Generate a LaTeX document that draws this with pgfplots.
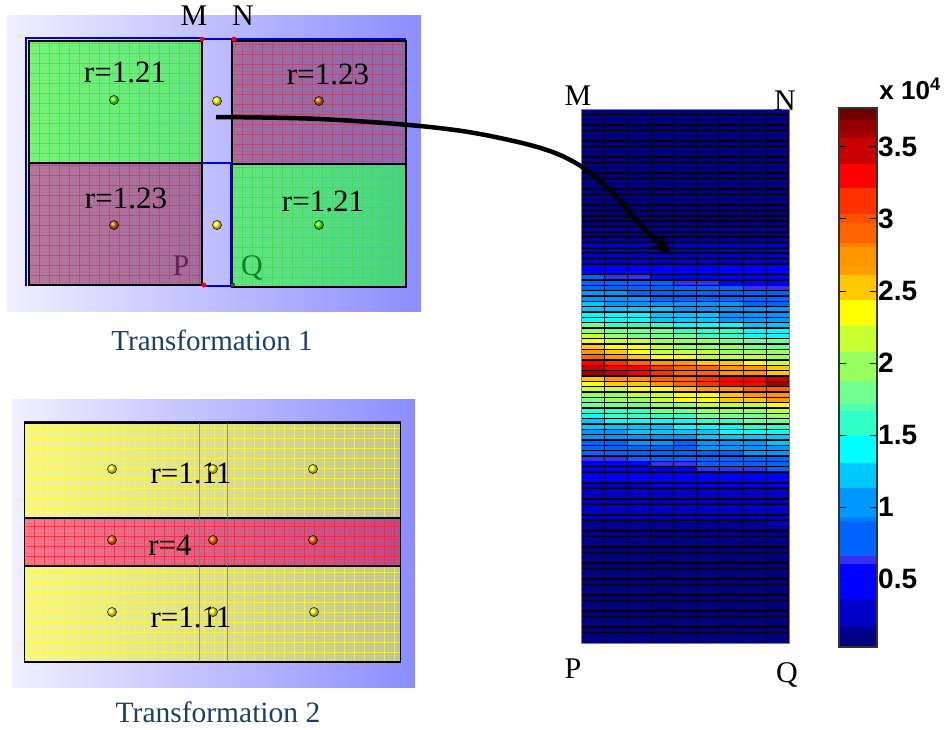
\documentclass[border=0pt]{standalone}
\usepackage{fontspec}
\setmainfont{Liberation Serif}
\setsansfont{Liberation Sans}
\usepackage{pgfplots}
\pgfplotsset{compat=1.18}
\usetikzlibrary{arrows.meta}
\newcommand\sz[1]{\fontsize{#1}{#1}\selectfont}
\definecolor{capblue}{RGB}{23,64,109}
\pgfplotsset{
  colormap={bands}{
    rgb255(3)=(0,0,128) rgb255(12)=(0,0,128)
    rgb255(13)=(0,0,150) rgb255(17)=(0,0,150)
    rgb255(18)=(0,0,200) rgb255(36)=(0,0,200)
    rgb255(37)=(0,0,255) rgb255(60)=(0,0,255)
    rgb255(61)=(55,48,240) rgb255(66)=(55,48,240)
    rgb255(67)=(0,100,255) rgb255(90)=(0,100,255)
    rgb255(91)=(0,128,255) rgb255(93)=(0,128,255)
    rgb255(94)=(0,152,255) rgb255(113)=(0,152,255)
    rgb255(114)=(0,200,255) rgb255(130)=(0,200,255)
    rgb255(131)=(0,255,255) rgb255(149)=(0,255,255)
    rgb255(150)=(48,255,200) rgb255(166)=(48,255,200)
    rgb255(167)=(80,255,176) rgb255(171)=(80,255,176)
    rgb255(172)=(112,255,144) rgb255(187)=(112,255,144)
    rgb255(188)=(152,255,96) rgb255(207)=(152,255,96)
    rgb255(208)=(200,255,48) rgb255(225)=(200,255,48)
    rgb255(226)=(255,255,0) rgb255(243)=(255,255,0)
    rgb255(244)=(255,200,0) rgb255(261)=(255,200,0)
    rgb255(262)=(255,160,0) rgb255(267)=(255,160,0)
    rgb255(268)=(255,150,0) rgb255(280)=(255,150,0)
    rgb255(281)=(255,128,0) rgb255(283)=(255,128,0)
    rgb255(284)=(255,100,0) rgb255(297)=(255,100,0)
    rgb255(298)=(255,80,0) rgb255(303)=(255,80,0)
    rgb255(304)=(255,50,0) rgb255(321)=(255,50,0)
    rgb255(322)=(255,0,0) rgb255(338)=(255,0,0)
    rgb255(339)=(200,0,0) rgb255(356)=(200,0,0)
    rgb255(357)=(160,0,0) rgb255(361)=(160,0,0)
    rgb255(362)=(144,0,0) rgb255(368)=(144,0,0)
    rgb255(369)=(112,0,0) rgb255(377)=(112,0,0)
  },
  page/.style={scale only axis, anchor=north west, xmin=0, ymin=0},
  backdrop/.style={page, xtick=\empty, ytick=\empty, axis line style={draw=none},
    axis background/.style={left color=white!60!blue!15, middle color=blue!27!white, right color=blue!45!white}},
  panel/.style n args={3}{page, xtick distance=10, ytick distance=10, minor tick num=2, grid=both,
    xticklabels={}, yticklabels={}, major tick length=0pt, minor tick length=0pt,
    axis line style={black, line width=1.5pt},
    major grid style={#3, opacity=.75, line width=.55pt},
    minor grid style={#3, opacity=.12, line width=.3pt},
    axis background/.style={left color=#1, right color=#2}},
}
\definecolor{gl}{RGB}{128,240,128}\definecolor{gm}{RGB}{104,228,136}\definecolor{gr}{RGB}{78,208,140}
\definecolor{pa}{RGB}{176,124,160}\definecolor{pb}{RGB}{160,112,160}\definecolor{pc}{RGB}{140,108,176}
\definecolor{yl}{RGB}{246,246,150}\definecolor{yr}{RGB}{190,194,150}
\definecolor{rl}{RGB}{248,124,140}\definecolor{rr}{RGB}{190,76,136}
\definecolor{glin}{RGB}{40,240,40}
\definecolor{plin}{RGB}{192,60,110}
\definecolor{ylin}{RGB}{255,255,30}
\definecolor{rlin}{RGB}{255,30,50}
\begin{document}
\begin{tikzpicture}
\path[use as bounding box] (0,0) rectangle (948pt,-729pt);
% transformation 1 and 2 backgrounds
\begin{axis}[backdrop, at={(7pt,-15pt)}, width=414pt, height=296pt, xmax=1, ymax=1]\end{axis}
\begin{axis}[backdrop, at={(12pt,-399pt)}, width=403pt, height=288pt, xmax=1, ymax=1]\end{axis}
% transformation 1 cells
\begin{axis}[panel={gl}{gm}{glin}, at={(29pt,-41pt)}, width=173pt, height=122pt, xmax=173, ymax=122]\end{axis}
\begin{axis}[panel={pb}{pc}{plin}, at={(232pt,-41pt)}, width=174pt, height=123pt, xmax=174, ymax=123]\end{axis}
\begin{axis}[panel={pa}{pb}{plin}, at={(29pt,-163pt)}, width=173pt, height=122pt, xmax=173, ymax=122]\end{axis}
\begin{axis}[panel={gm}{gr}{glin}, at={(232pt,-164pt)}, width=174pt, height=123pt, xmax=174, ymax=123]\end{axis}
% transformation 2 cells
\begin{axis}[panel={yl}{yr}{ylin}, at={(24.5pt,-423pt)}, width=376pt, height=95pt, xmax=376, ymax=95]\end{axis}
\begin{axis}[panel={rl}{rr}{rlin}, at={(24.5pt,-518pt)}, width=376pt, height=48pt, xmax=376, ymax=48]\end{axis}
\begin{axis}[panel={yl}{yr}{ylin}, at={(24.5pt,-566pt)}, width=376pt, height=96pt, xmax=376, ymax=96]\end{axis}
% field map
\begin{axis}[page, at={(581pt,-109pt)}, width=208pt, height=534pt,
  xmin=-.5, xmax=8.5, ymin=-.5, ymax=99.5, y dir=reverse,
  colormap name=bands, point meta min=.03, point meta max=3.77,
  axis on top, grid=major,
  xtick={.5,1.5,...,7.5}, ytick={.5,1.5,...,98.5},
  xticklabels={}, yticklabels={}, major tick length=0pt,
  x grid style={black, line width=.5pt}, y grid style={black, line width=1.4pt},
  axis line style={gray, line width=.8pt}]
\addplot[matrix plot*, mesh/cols=9, point meta=\thisrow{c}] table[row sep=crcr, x=x, y=y] {
x y c\\
0 0 .08\\1 0 .08\\2 0 .08\\3 0 .08\\4 0 .08\\5 0 .08\\6 0 .08\\7 0 .08\\8 0 .08\\
0 1 .08\\1 1 .08\\2 1 .08\\3 1 .08\\4 1 .08\\5 1 .08\\6 1 .08\\7 1 .08\\8 1 .08\\
0 2 .08\\1 2 .08\\2 2 .08\\3 2 .08\\4 2 .08\\5 2 .08\\6 2 .08\\7 2 .08\\8 2 .08\\
0 3 .08\\1 3 .08\\2 3 .08\\3 3 .08\\4 3 .08\\5 3 .08\\6 3 .08\\7 3 .08\\8 3 .08\\
0 4 .08\\1 4 .08\\2 4 .08\\3 4 .08\\4 4 .08\\5 4 .08\\6 4 .08\\7 4 .08\\8 4 .08\\
0 5 .08\\1 5 .08\\2 5 .08\\3 5 .08\\4 5 .08\\5 5 .08\\6 5 .08\\7 5 .08\\8 5 .08\\
0 6 .08\\1 6 .08\\2 6 .08\\3 6 .08\\4 6 .08\\5 6 .08\\6 6 .08\\7 6 .08\\8 6 .08\\
0 7 .08\\1 7 .08\\2 7 .08\\3 7 .08\\4 7 .08\\5 7 .08\\6 7 .08\\7 7 .08\\8 7 .08\\
0 8 .08\\1 8 .08\\2 8 .08\\3 8 .08\\4 8 .08\\5 8 .08\\6 8 .08\\7 8 .08\\8 8 .08\\
0 9 .08\\1 9 .08\\2 9 .08\\3 9 .08\\4 9 .08\\5 9 .08\\6 9 .08\\7 9 .08\\8 9 .08\\
0 10 .08\\1 10 .08\\2 10 .08\\3 10 .08\\4 10 .08\\5 10 .08\\6 10 .08\\7 10 .08\\8 10 .08\\
0 11 .08\\1 11 .08\\2 11 .08\\3 11 .08\\4 11 .08\\5 11 .08\\6 11 .08\\7 11 .08\\8 11 .08\\
0 12 .08\\1 12 .08\\2 12 .08\\3 12 .08\\4 12 .08\\5 12 .08\\6 12 .08\\7 12 .08\\8 12 .08\\
0 13 .08\\1 13 .08\\2 13 .08\\3 13 .08\\4 13 .08\\5 13 .08\\6 13 .08\\7 13 .08\\8 13 .08\\
0 14 .08\\1 14 .08\\2 14 .08\\3 14 .08\\4 14 .08\\5 14 .08\\6 14 .08\\7 14 .08\\8 14 .08\\
0 15 .08\\1 15 .08\\2 15 .08\\3 15 .08\\4 15 .08\\5 15 .08\\6 15 .08\\7 15 .08\\8 15 .08\\
0 16 .08\\1 16 .08\\2 16 .08\\3 16 .08\\4 16 .08\\5 16 .08\\6 16 .08\\7 16 .08\\8 16 .08\\
0 17 .08\\1 17 .08\\2 17 .08\\3 17 .08\\4 17 .08\\5 17 .08\\6 17 .08\\7 17 .08\\8 17 .08\\
0 18 .08\\1 18 .08\\2 18 .08\\3 18 .08\\4 18 .08\\5 18 .08\\6 18 .08\\7 18 .08\\8 18 .08\\
0 19 .08\\1 19 .08\\2 19 .08\\3 19 .08\\4 19 .08\\5 19 .08\\6 19 .08\\7 19 .08\\8 19 .08\\
0 20 .08\\1 20 .08\\2 20 .08\\3 20 .08\\4 20 .08\\5 20 .08\\6 20 .08\\7 20 .08\\8 20 .08\\
0 21 .08\\1 21 .08\\2 21 .08\\3 21 .08\\4 21 .08\\5 21 .08\\6 21 .08\\7 21 .08\\8 21 .08\\
0 22 .15\\1 22 .15\\2 22 .15\\3 22 .15\\4 22 .15\\5 22 .15\\6 22 .15\\7 22 .15\\8 22 .15\\
0 23 .15\\1 23 .15\\2 23 .15\\3 23 .15\\4 23 .15\\5 23 .15\\6 23 .15\\7 23 .15\\8 23 .15\\
0 24 .15\\1 24 .15\\2 24 .15\\3 24 .15\\4 24 .15\\5 24 .15\\6 24 .15\\7 24 .15\\8 24 .15\\
0 25 .28\\1 25 .28\\2 25 .28\\3 25 .28\\4 25 .28\\5 25 .28\\6 25 .28\\7 25 .28\\8 25 .28\\
0 26 .28\\1 26 .28\\2 26 .28\\3 26 .28\\4 26 .28\\5 26 .28\\6 26 .28\\7 26 .28\\8 26 .28\\
0 27 .28\\1 27 .28\\2 27 .28\\3 27 .28\\4 27 .28\\5 27 .28\\6 27 .28\\7 27 .28\\8 27 .28\\
0 28 .28\\1 28 .28\\2 28 .28\\3 28 .28\\4 28 .28\\5 28 .28\\6 28 .28\\7 28 .28\\8 28 .28\\
0 29 .5\\1 29 .5\\2 29 .5\\3 29 .5\\4 29 .5\\5 29 .5\\6 29 .5\\7 29 .5\\8 29 .5\\
0 30 .5\\1 30 .5\\2 30 .5\\3 30 .5\\4 30 .5\\5 30 .5\\6 30 .5\\7 30 .5\\8 30 .5\\
0 31 .8\\1 31 .64\\2 31 .64\\3 31 .5\\4 31 .5\\5 31 .5\\6 31 .5\\7 31 .5\\8 31 .5\\
0 32 .8\\1 32 .8\\2 32 .8\\3 32 .8\\4 32 .64\\5 32 .64\\6 32 .5\\7 32 .5\\8 32 .5\\
0 33 .8\\1 33 .8\\2 33 .8\\3 33 .8\\4 33 .8\\5 33 .8\\6 33 .8\\7 33 .64\\8 33 .64\\
0 34 1\\1 34 1\\2 34 .8\\3 34 .8\\4 34 .8\\5 34 .8\\6 34 .8\\7 34 .8\\8 34 .8\\
0 35 1\\1 35 1\\2 35 1\\3 35 .8\\4 35 .8\\5 35 .8\\6 35 .8\\7 35 .8\\8 35 .8\\
0 36 1.22\\1 36 1\\2 36 1\\3 36 1\\4 36 1\\5 36 1\\6 36 1\\7 36 .8\\8 36 .8\\
0 37 1.22\\1 37 1.22\\2 37 1.22\\3 37 1.22\\4 37 1\\5 37 1\\6 37 1\\7 37 1\\8 37 1\\
0 38 1.4\\1 38 1.4\\2 38 1.4\\3 38 1.22\\4 38 1.22\\5 38 1.22\\6 38 1\\7 38 1\\8 38 1\\
0 39 1.4\\1 39 1.4\\2 39 1.4\\3 39 1.22\\4 39 1.22\\5 39 1.22\\6 39 1\\7 39 1\\8 39 1\\
0 40 1.8\\1 40 1.58\\2 40 1.58\\3 40 1.58\\4 40 1.4\\5 40 1.4\\6 40 1.4\\7 40 1.22\\8 40 1.22\\
0 41 2\\1 41 1.8\\2 41 1.8\\3 41 1.8\\4 41 1.58\\5 41 1.58\\6 41 1.58\\7 41 1.4\\8 41 1.4\\
0 42 2.15\\1 42 2\\2 42 1.8\\3 42 1.8\\4 42 1.8\\5 42 1.58\\6 42 1.58\\7 42 1.4\\8 42 1.4\\
0 43 2.35\\1 43 2.15\\2 43 2.15\\3 43 2\\4 43 2\\5 43 1.9\\6 43 1.8\\7 43 1.8\\8 43 1.8\\
0 44 2.53\\1 44 2.35\\2 44 2.35\\3 44 2.15\\4 44 2\\5 44 2\\6 44 2\\7 44 1.8\\8 44 1.8\\
0 45 2.74\\1 45 2.53\\2 45 2.35\\3 45 2.15\\4 45 2.15\\5 45 2.15\\6 45 2\\7 45 2\\8 45 2\\
0 46 2.9\\1 46 2.74\\2 46 2.53\\3 46 2.35\\4 46 2.35\\5 46 2.15\\6 46 2.15\\7 46 2.15\\8 46 2\\
0 47 3.3\\1 47 3.13\\2 47 2.9\\3 47 2.74\\4 47 2.74\\5 47 2.53\\6 47 2.53\\7 47 2.35\\8 47 2.15\\
0 48 3.48\\1 48 3.3\\2 48 3.3\\3 48 3.13\\4 48 2.9\\5 48 2.9\\6 48 2.74\\7 48 2.74\\8 48 2.53\\
0 49 3.6\\1 49 3.48\\2 49 3.3\\3 49 3.13\\4 49 2.9\\5 49 2.9\\6 49 2.74\\7 49 2.74\\8 49 2.53\\
0 50 2.53\\1 50 2.74\\2 50 2.74\\3 50 2.9\\4 50 2.9\\5 50 3.13\\6 50 3.3\\7 50 3.3\\8 50 3.48\\
0 51 2.35\\1 51 2.53\\2 51 2.53\\3 51 2.74\\4 51 2.9\\5 51 3.13\\6 51 3.3\\7 51 3.3\\8 51 3.6\\
0 52 2.15\\1 52 2.15\\2 52 2.35\\3 52 2.35\\4 52 2.53\\5 52 2.74\\6 52 2.74\\7 52 2.9\\8 52 2.9\\
0 53 2\\1 53 2\\2 53 2.15\\3 53 2.15\\4 53 2.35\\5 53 2.35\\6 53 2.53\\7 53 2.74\\8 53 2.74\\
0 54 1.8\\1 54 1.9\\2 54 2\\3 54 2.15\\4 54 2.35\\5 54 2.35\\6 54 2.53\\7 54 2.53\\8 54 2.74\\
0 55 1.8\\1 55 1.8\\2 55 1.8\\3 55 1.9\\4 55 2\\5 55 2.15\\6 55 2.15\\7 55 2.15\\8 55 2.35\\
0 56 1.58\\1 56 1.58\\2 56 1.58\\3 56 1.8\\4 56 1.8\\5 56 1.9\\6 56 2\\7 56 2\\8 56 2.15\\
0 57 1.4\\1 57 1.58\\2 57 1.58\\3 57 1.58\\4 57 1.58\\5 57 1.8\\6 57 1.8\\7 57 1.8\\8 57 2\\
0 58 1.22\\1 58 1.4\\2 58 1.4\\3 58 1.4\\4 58 1.4\\5 58 1.58\\6 58 1.58\\7 58 1.8\\8 58 1.8\\
0 59 1.22\\1 59 1.22\\2 59 1.22\\3 59 1.22\\4 59 1.4\\5 59 1.4\\6 59 1.4\\7 59 1.58\\8 59 1.58\\
0 60 1\\1 60 1\\2 60 1.22\\3 60 1.22\\4 60 1.22\\5 60 1.22\\6 60 1.4\\7 60 1.4\\8 60 1.4\\
0 61 1\\1 61 1\\2 61 1\\3 61 1\\4 61 1\\5 61 1.22\\6 61 1.22\\7 61 1.22\\8 61 1.22\\
0 62 .8\\1 62 .8\\2 62 1\\3 62 1\\4 62 .8\\5 62 1\\6 62 1\\7 62 1\\8 62 1.22\\
0 63 .8\\1 63 .8\\2 63 .8\\3 63 .8\\4 63 .8\\5 63 1\\6 63 1\\7 63 1\\8 63 1\\
0 64 .8\\1 64 .8\\2 64 .8\\3 64 .8\\4 64 .8\\5 64 .8\\6 64 .8\\7 64 1\\8 64 1\\
0 65 .64\\1 65 .64\\2 65 .8\\3 65 .8\\4 65 .8\\5 65 .8\\6 65 .8\\7 65 .8\\8 65 .8\\
0 66 .5\\1 66 .5\\2 66 .5\\3 66 .64\\4 66 .64\\5 66 .8\\6 66 .8\\7 66 .8\\8 66 .8\\
0 67 .5\\1 67 .5\\2 67 .5\\3 67 .5\\4 67 .5\\5 67 .64\\6 67 .64\\7 67 .64\\8 67 .8\\
0 68 .5\\1 68 .5\\2 68 .5\\3 68 .5\\4 68 .5\\5 68 .5\\6 68 .5\\7 68 .5\\8 68 .5\\
0 69 .5\\1 69 .5\\2 69 .5\\3 69 .5\\4 69 .5\\5 69 .5\\6 69 .5\\7 69 .5\\8 69 .5\\
0 70 .28\\1 70 .28\\2 70 .28\\3 70 .5\\4 70 .5\\5 70 .5\\6 70 .5\\7 70 .5\\8 70 .5\\
0 71 .28\\1 71 .28\\2 71 .28\\3 71 .28\\4 71 .28\\5 71 .28\\6 71 .28\\7 71 .28\\8 71 .28\\
0 72 .28\\1 72 .28\\2 72 .28\\3 72 .28\\4 72 .28\\5 72 .28\\6 72 .28\\7 72 .28\\8 72 .28\\
0 73 .28\\1 73 .28\\2 73 .28\\3 73 .28\\4 73 .28\\5 73 .28\\6 73 .28\\7 73 .28\\8 73 .28\\
0 74 .28\\1 74 .28\\2 74 .28\\3 74 .28\\4 74 .28\\5 74 .28\\6 74 .28\\7 74 .28\\8 74 .28\\
0 75 .28\\1 75 .28\\2 75 .28\\3 75 .28\\4 75 .28\\5 75 .28\\6 75 .28\\7 75 .28\\8 75 .28\\
0 76 .28\\1 76 .28\\2 76 .28\\3 76 .28\\4 76 .28\\5 76 .28\\6 76 .28\\7 76 .28\\8 76 .28\\
0 77 .15\\1 77 .15\\2 77 .15\\3 77 .15\\4 77 .15\\5 77 .15\\6 77 .15\\7 77 .15\\8 77 .28\\
0 78 .15\\1 78 .15\\2 78 .15\\3 78 .15\\4 78 .15\\5 78 .15\\6 78 .15\\7 78 .15\\8 78 .15\\
0 79 .15\\1 79 .15\\2 79 .15\\3 79 .15\\4 79 .15\\5 79 .15\\6 79 .15\\7 79 .15\\8 79 .15\\
0 80 .15\\1 80 .15\\2 80 .15\\3 80 .15\\4 80 .15\\5 80 .15\\6 80 .15\\7 80 .15\\8 80 .15\\
0 81 .08\\1 81 .08\\2 81 .08\\3 81 .08\\4 81 .08\\5 81 .08\\6 81 .08\\7 81 .08\\8 81 .08\\
0 82 .08\\1 82 .08\\2 82 .08\\3 82 .08\\4 82 .08\\5 82 .08\\6 82 .08\\7 82 .08\\8 82 .08\\
0 83 .08\\1 83 .08\\2 83 .08\\3 83 .08\\4 83 .08\\5 83 .08\\6 83 .08\\7 83 .08\\8 83 .08\\
0 84 .08\\1 84 .08\\2 84 .08\\3 84 .08\\4 84 .08\\5 84 .08\\6 84 .08\\7 84 .08\\8 84 .08\\
0 85 .08\\1 85 .08\\2 85 .08\\3 85 .08\\4 85 .08\\5 85 .08\\6 85 .08\\7 85 .08\\8 85 .08\\
0 86 .08\\1 86 .08\\2 86 .08\\3 86 .08\\4 86 .08\\5 86 .08\\6 86 .08\\7 86 .08\\8 86 .08\\
0 87 .08\\1 87 .08\\2 87 .08\\3 87 .08\\4 87 .08\\5 87 .08\\6 87 .08\\7 87 .08\\8 87 .08\\
0 88 .08\\1 88 .08\\2 88 .08\\3 88 .08\\4 88 .08\\5 88 .08\\6 88 .08\\7 88 .08\\8 88 .08\\
0 89 .08\\1 89 .08\\2 89 .08\\3 89 .08\\4 89 .08\\5 89 .08\\6 89 .08\\7 89 .08\\8 89 .08\\
0 90 .08\\1 90 .08\\2 90 .08\\3 90 .08\\4 90 .08\\5 90 .08\\6 90 .08\\7 90 .08\\8 90 .08\\
0 91 .08\\1 91 .08\\2 91 .08\\3 91 .08\\4 91 .08\\5 91 .08\\6 91 .08\\7 91 .08\\8 91 .08\\
0 92 .08\\1 92 .08\\2 92 .08\\3 92 .08\\4 92 .08\\5 92 .08\\6 92 .08\\7 92 .08\\8 92 .08\\
0 93 .08\\1 93 .08\\2 93 .08\\3 93 .08\\4 93 .08\\5 93 .08\\6 93 .08\\7 93 .08\\8 93 .08\\
0 94 .08\\1 94 .08\\2 94 .08\\3 94 .08\\4 94 .08\\5 94 .08\\6 94 .08\\7 94 .08\\8 94 .08\\
0 95 .08\\1 95 .08\\2 95 .08\\3 95 .08\\4 95 .08\\5 95 .08\\6 95 .08\\7 95 .08\\8 95 .08\\
0 96 .08\\1 96 .08\\2 96 .08\\3 96 .08\\4 96 .08\\5 96 .08\\6 96 .08\\7 96 .08\\8 96 .08\\
0 97 .08\\1 97 .08\\2 97 .08\\3 97 .08\\4 97 .08\\5 97 .08\\6 97 .08\\7 97 .08\\8 97 .08\\
0 98 .08\\1 98 .08\\2 98 .08\\3 98 .08\\4 98 .08\\5 98 .08\\6 98 .08\\7 98 .08\\8 98 .08\\
0 99 .08\\1 99 .08\\2 99 .08\\3 99 .08\\4 99 .08\\5 99 .08\\6 99 .08\\7 99 .08\\8 99 .08\\
};
\end{axis}
% colour bar
\begin{axis}[page, at={(839pt,-108pt)}, width=38pt, height=539pt,
  xmin=0, xmax=1, ymin=.03, ymax=3.77,
  colormap name=bands, point meta min=.03, point meta max=3.77,
  xtick=\empty, axis on top,
  ytick={.5,1,1.5,2,2.5,3,3.5}, yticklabels={0.5,1,1.5,2,2.5,3,3.5},
  tick pos=both, yticklabel pos=right, tick align=inside, major tick length=7pt,
  tick style={black, line width=1pt},
  y tick label style={font=\sffamily\bfseries\sz{28}, anchor=west, inner sep=0pt, xshift=1pt},
  axis line style={black!80, line width=1.4pt}]
\addplot[surf, shader=flat corner, mesh/cols=2, point meta=\thisrow{c}] table[x=x, y=y] {
x y c
0 .03 .08
1 .03 .08
0 .13 .15
1 .13 .15
0 .18 .28
1 .18 .28
0 .37 .5
1 .37 .5
0 .61 .64
1 .61 .64
0 .67 .8
1 .67 .8
0 .91 .92
1 .91 .92
0 .94 1
1 .94 1
0 1.14 1.22
1 1.14 1.22
0 1.31 1.4
1 1.31 1.4
0 1.5 1.58
1 1.5 1.58
0 1.67 1.7
1 1.67 1.7
0 1.72 1.8
1 1.72 1.8
0 1.88 2
1 1.88 2
0 2.08 2.15
1 2.08 2.15
0 2.26 2.35
1 2.26 2.35
0 2.44 2.53
1 2.44 2.53
0 2.62 2.65
1 2.62 2.65
0 2.68 2.74
1 2.68 2.74
0 2.81 2.82
1 2.81 2.82
0 2.84 2.9
1 2.84 2.9
0 2.98 3
1 2.98 3
0 3.04 3.13
1 3.04 3.13
0 3.22 3.3
1 3.22 3.3
0 3.39 3.48
1 3.39 3.48
0 3.57 3.6
1 3.57 3.6
0 3.62 3.66
1 3.62 3.66
0 3.69 3.73
1 3.69 3.73
0 3.77 3.73
1 3.77 3.73
};
\end{axis}
% lines, dots, labels and the arrow, in pixels of the figure
\begin{axis}[page, at={(0pt,0pt)}, width=948pt, height=729pt, xmax=948, ymax=729, y dir=reverse,
  hide axis, clip=false]
\addplot[blue!85!black, line width=1.3pt] coordinates {(26,286) (26,38) (202,38)};
\addplot[blue!85!black, line width=1.3pt] coordinates {(202,39) (234,39)};
\addplot[blue!85!black, line width=1.3pt] coordinates {(202,163) (232,163)};
\addplot[blue!85!black, line width=1.3pt] coordinates {(202,286) (232,286)};
\addplot[blue!85!black, line width=1.3pt] coordinates {(231,163) (231,286)};
\addplot[blue!85!black, line width=1.3pt] coordinates {(232,39) (406,39)};
\addplot[blue!85!black, line width=1.3pt] coordinates {(24,421.5) (401,421.5)};
\addplot[black!55, opacity=.7, line width=.7pt] coordinates {(199,423) (199,662)};
\addplot[black!55, opacity=.7, line width=.7pt] coordinates {(227,423) (227,662)};
\addplot[only marks, mark=*, red, mark size=2.2pt] coordinates {(202,39) (234,39) (204,285)};
\addplot[only marks, mark=*, red!50!green!60!black, mark size=2pt] coordinates {(233,285)};
% marker spheres
\addplot[only marks, mark=ball, ball color=green!70!yellow, mark size=4.6pt] coordinates {(114,100) (319,225)};
\addplot[only marks, mark=ball, ball color=yellow, mark size=4.6pt] coordinates {(217,101) (217,225) (112,469) (213,469) (313,469) (112,612) (213,612) (314,612)};
\addplot[only marks, mark=ball, ball color=orange!80!black, mark size=4.6pt] coordinates {(319,101) (114,225)};
\addplot[only marks, mark=ball, ball color=orange!75!red, mark size=4.6pt] coordinates {(112,540) (213,540) (313,540)};
% arrow from the gap to the map
\addplot[black, line width=4.5pt, smooth, tension=.6, -{Stealth[length=20pt,width=17pt,inset=3pt]}] coordinates {
  (216,117) (320,119) (430,127) (500,138) (560,155) (603,183) (640,224) (672,255)};
\node[font=\sz{31}] at (125,72) {r=1.21};
\node[font=\sz{31}] at (328,74) {r=1.23};
\node[font=\sz{31}] at (126,198) {r=1.23};
\node[font=\sz{31}] at (323,201) {r=1.21};
\node[font=\sz{31}] at (191,473) {r=1.11};
\node[font=\sz{31}] at (170,545) {r=4};
\node[font=\sz{31}] at (191,617) {r=1.11};
\node[font=\sz{30}] at (194,16) {M};
\node[font=\sz{30}] at (243,16) {N};
\node[font=\sz{30}, text={rgb,255:red,100;green,35;blue,85}] at (181,266) {P};
\node[font=\sz{30}, text={rgb,255:red,16;green,130;blue,40}] at (252,268) {Q};
\node[font=\sz{30}] at (578,96) {M};
\node[font=\sz{30}] at (785,101) {N};
\node[font=\sz{30}] at (573,669) {P};
\node[font=\sz{30}] at (787,675) {Q};
\node[font=\sz{29}, text=capblue] at (212,340) {Transformation 1};
\node[font=\sz{29.5}, text=capblue] at (218,712) {Transformation 2};
\node[font=\sffamily\bfseries\sz{26}] at (910,89) {x 10\textsuperscript{4}};
\end{axis}
\end{tikzpicture}
\end{document}
